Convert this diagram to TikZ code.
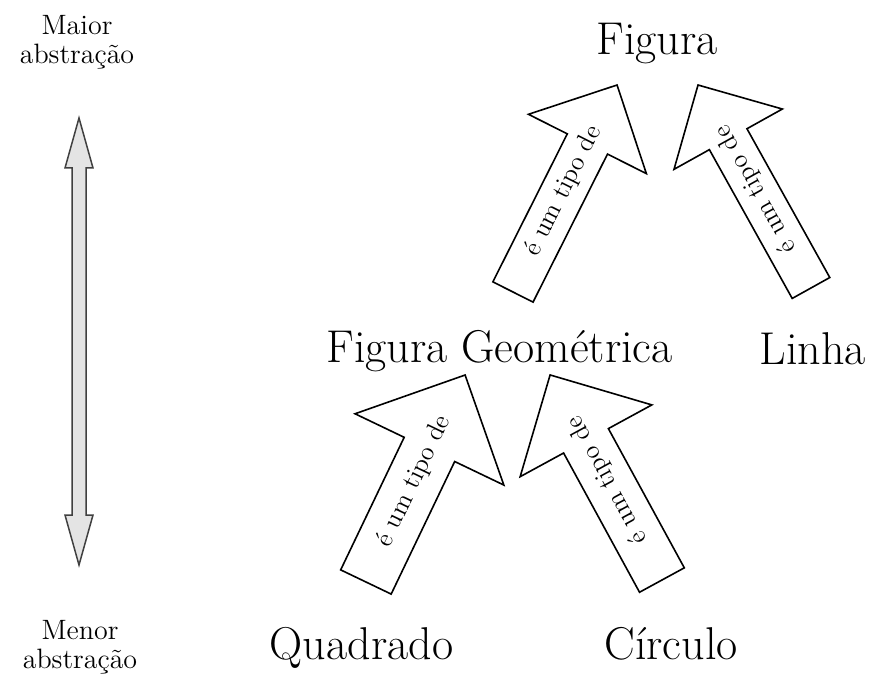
\documentclass[tikz,border=0pt]{standalone}
\usepackage{tikz}
\definecolor{absgray}{HTML}{E4E4E4}
\definecolor{absedge}{HTML}{404040}

\begin{document}
\begin{tikzpicture}[x=0.5pt, y=0.5pt,
  concept/.style={font=\fontsize{23}{27}\selectfont, inner sep=0pt, anchor=base},
  sidelabel/.style={align=center, font=\fontsize{14}{14.5}\selectfont, inner sep=0pt},
  isarrow/.style={draw=black, fill=white, line width=0.8pt, line join=miter},
  isalabel/.style={font=\fontsize{13}{15}\selectfont, inner sep=0pt},
  scalearrow/.style={draw=absedge, fill=absgray, line width=0.75pt}]
  \useasboundingbox (0,0) rectangle (877,675);
  % abstraction scale
  \node[sidelabel] (maior) at (77,633) {Maior\\abstração};
  \node[sidelabel] (menor) at (80,28) {Menor\\abstração};
  \draw[scalearrow] (79,557) -- (93,507) -- (86,507) -- (86,160) -- (93,160)
    -- (79,110) -- (65,160) -- (72,160) -- (72,507) -- (65,507) -- cycle;
  % concepts
  \node[concept] (figura) at (657,620) {Figura};
  \node[concept] (geom) at (499.5,312) {Figura Geométrica};
  \node[concept] (linha) at (813,310) {Linha};
  \node[concept] (quadrado) at (361.5,16) {Quadrado};
  \node[concept] (circulo) at (671,16) {Círculo};
  % "é um tipo de" arrows
  \foreach \nm/\cx/\cy/\ang/\len/\sw/\hw in {
      geomfig/565/486.5/63.3/231.7/45/132,
      linfig/754.5/488.5/119.1/232.3/43/124,
      quadgeom/415.5/196.5/64.4/229.5/56/165,
      circgeom/606/197.5/118.6/233.6/51/150} {
    \begin{scope}[shift={(\cx,\cy)}, rotate=\ang]
      \draw[isarrow] (-\len/2,-\sw/2) -- (\len/2-\hw/2,-\sw/2) -- (\len/2-\hw/2,-\hw/2)
        -- (\len/2,0) -- (\len/2-\hw/2,\hw/2) -- (\len/2-\hw/2,\sw/2) -- (-\len/2,\sw/2) -- cycle;
      \node[isalabel, rotate=\ang] (\nm) at (-3,0) {é um tipo de};
    \end{scope}
  }
\end{tikzpicture}
\end{document}
